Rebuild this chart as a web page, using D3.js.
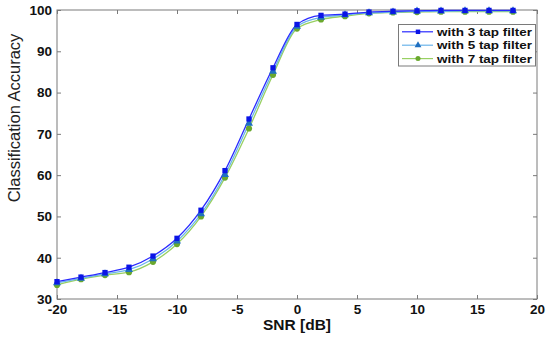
<!DOCTYPE html>
<html><head><meta charset="utf-8">
<script src="https://cdn.jsdelivr.net/npm/d3@7/dist/d3.min.js"></script>
<style>body{margin:0;background:#fff;} svg{display:block;}</style>
</head><body><svg id="c" width="550" height="337"></svg>
<script>
const snr = [-20,-18,-16,-14,-12,-10,-8,-6,-4,-2,0,2,4,6,8,10,12,14,16,18];
const tap3 = [34.2,35.3,36.4,37.7,40.4,44.7,51.5,61.1,73.6,86.0,96.5,98.7,99.0,99.5,99.7,99.8,99.9,99.9,99.9,99.9];
const tap5 = [33.9,35.0,36.1,37.1,39.7,44.0,50.6,60.1,72.5,85.1,96.0,98.2,98.8,99.3,99.5,99.7,99.7,99.8,99.8,99.8];
const tap7 = [33.4,34.8,35.8,36.5,39.0,43.3,50.0,59.4,71.3,84.3,95.5,97.7,98.5,99.2,99.4,99.5,99.6,99.6,99.6,99.6];
const xTicks = [-20,-15,-10,-5,0,5,10,15,20];
const yTicks = [30,40,50,60,70,80,90,100];
const seriesNames = ["with 3 tap filter","with 5 tap filter","with 7 tap filter"];

const series = [
  {name: seriesNames[0], values: tap3, line: "#2a2aff", mark: "#0a14e6", shape: d3.symbolSquare},
  {name: seriesNames[1], values: tap5, line: "#6ab4ea", mark: "#1f6fc0", shape: d3.symbolTriangle},
  {name: seriesNames[2], values: tap7, line: "#98d062", mark: "#6aa82e", shape: d3.symbolCircle}
];

const svg = d3.select("#c");
const L = 57, R = 537, T = 10, B = 299;
const x = d3.scaleLinear().domain([-20,20]).range([L,R]);
const y = d3.scaleLinear().domain([30,100]).range([B,T]);
const font = "'Liberation Sans', Arial, sans-serif";
const axisCol = "#7a7a7a";
const fmt = d => String(d);

// box
svg.append("rect").attr("x",L).attr("y",T).attr("width",R-L).attr("height",B-T)
  .attr("fill","none").attr("stroke",axisCol).attr("stroke-width",1);

// axes
const gx = svg.append("g").attr("transform",`translate(0,${B})`)
  .call(d3.axisBottom(x).tickValues(xTicks).tickSize(-4).tickPadding(5).tickFormat(fmt));
const gxt = svg.append("g").attr("transform",`translate(0,${T})`)
  .call(d3.axisTop(x).tickValues(xTicks).tickSize(-4).tickFormat(""));
const gy = svg.append("g").attr("transform",`translate(${L},0)`)
  .call(d3.axisLeft(y).tickValues(yTicks).tickSize(-4).tickPadding(5).tickFormat(fmt));
const gyr = svg.append("g").attr("transform",`translate(${R},0)`)
  .call(d3.axisRight(y).tickValues(yTicks).tickSize(-4).tickFormat(""));
[gx,gxt,gy,gyr].forEach(g=>{
  g.select(".domain").remove();
  g.selectAll(".tick line").attr("stroke",axisCol);
  g.selectAll("text").attr("font-family",font).attr("font-weight","bold")
    .attr("font-size","13.5px").attr("fill","#111");
});

// lines
const line = d3.line().x((d,i)=>x(snr[i])).y(d=>y(d)).curve(d3.curveMonotoneX);
series.slice().reverse().forEach(s=>{
  svg.append("path").datum(s.values).attr("d",line)
    .attr("fill","none").attr("stroke",s.line).attr("stroke-width",1.3);
});
series.slice().reverse().forEach(s=>{
  svg.append("g").selectAll("path").data(s.values).join("path")
    .attr("transform",(d,i)=>`translate(${x(snr[i])},${y(d)})`)
    .attr("d",d3.symbol().type(s.shape).size(s.shape===d3.symbolCircle?30:28))
    .attr("fill",s.mark);
});

// axis labels
svg.append("text").attr("x",297).attr("y",330).attr("text-anchor","middle")
  .attr("font-family",font).attr("font-weight","bold").attr("font-size","15.5px")
  .attr("fill","#111").text("SNR [dB]");
svg.append("text").attr("transform","translate(20,118) rotate(-90)").attr("text-anchor","middle")
  .attr("font-family",font).attr("font-size","16.5px").attr("fill","#222")
  .text("Classification Accuracy");

// legend
const lg = svg.append("g");
lg.append("rect").attr("x",398.5).attr("y",24.5).attr("width",137).attr("height",41.5)
  .attr("fill","#fff").attr("stroke",axisCol);
series.forEach((s,i)=>{
  const cy = 31.8 + i*13.4;
  lg.append("line").attr("x1",402).attr("x2",433).attr("y1",cy).attr("y2",cy)
    .attr("stroke",s.line).attr("stroke-width",1.2);
  lg.append("path").attr("transform",`translate(418,${cy})`)
    .attr("d",d3.symbol().type(s.shape).size(20)).attr("fill",s.mark);
  lg.append("text").attr("x",437).attr("y",cy+4.2)
    .attr("font-family",font).attr("font-weight","bold").attr("font-size","11.5px")
    .attr("textLength",95).attr("lengthAdjust","spacingAndGlyphs")
    .attr("fill","#111").text(s.name);
});
</script></body></html>
